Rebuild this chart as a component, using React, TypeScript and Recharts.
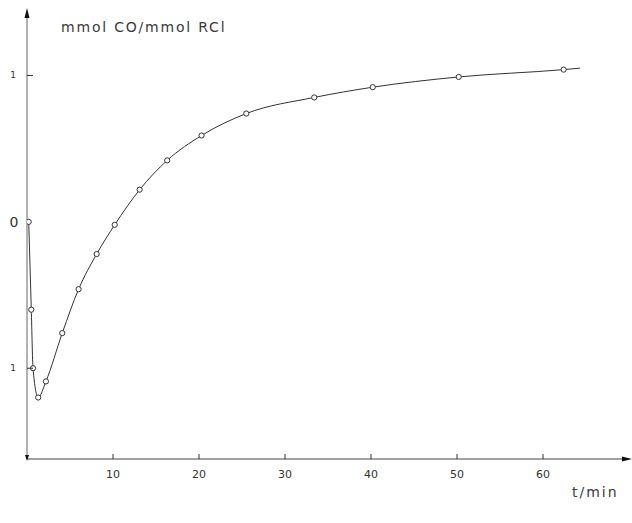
import React from "react";
import { ComposedChart, Line, XAxis, YAxis, ReferenceDot } from "recharts";

// readings: time in minutes, CO yield in mmol CO / mmol RCl
const times = [0.2, 0.5, 0.7, 1.3, 2.2, 4.1, 6.0, 8.1, 10.2, 13.1, 16.3, 20.3, 25.5, 33.4, 40.2, 50.2, 62.4];
const coYield = [0, -0.6, -1.0, -1.2, -1.09, -0.76, -0.46, -0.22, -0.02, 0.22, 0.42, 0.59, 0.74, 0.85, 0.92, 0.99, 1.04];
// where the drawn curve stops, past the last reading
const curveEndT = 64.3;
const curveEndY = 1.05;

const xTicks = [10, 20, 30, 40, 50, 60];
const yTicks = [-1, 0, 1];
const yTickLabels = ["1", "0", "1"];

const xDomain: [number, number] = [0, 70];
const yDomain: [number, number] = [-1.62, 1.42];

const ink = "#333";
const font = "DejaVu Sans, sans-serif";

const data = [
  ...times.map((t, i) => ({ t, y: coYield[i], measured: true })),
  { t: curveEndT, y: curveEndY, measured: false },
];

const XTick = (props: any) => {
  const { x, y, payload } = props;
  return (
    <g>
      <line x1={x} x2={x} y1={y} y2={y - 5} stroke={ink} strokeWidth={1} />
      <text x={x} y={y + 19} textAnchor="middle" fontSize={11} fill={ink} fontFamily={font}>
        {payload.value}
      </text>
    </g>
  );
};

const YTick = (props: any) => {
  const { x, y, payload } = props;
  const idx = yTicks.indexOf(payload.value);
  const isZero = payload.value === 0;
  return (
    <g>
      {!isZero && <line x1={x} x2={x + 6} y1={y} y2={y} stroke={ink} strokeWidth={1} />}
      <text
        x={isZero ? 14 : 13}
        y={y + (isZero ? 5 : 3)}
        textAnchor="middle"
        fontSize={isZero ? 14 : 9}
        fill={ink}
        fontFamily={font}
      >
        {yTickLabels[idx]}
      </text>
    </g>
  );
};

const OpenDot = (props: any) => {
  const { cx, cy, payload, index } = props;
  if (!payload || !payload.measured) return <g key={`d${index}`} />;
  return <circle key={`d${index}`} cx={cx} cy={cy} r={2.6} fill="#fff" stroke={ink} strokeWidth={1} />;
};

const arrowUp = ({ cx, cy }: any) => (
  <path d={`M${cx},${cy - 6} L${cx - 2.5},${cy + 4} L${cx + 2.5},${cy + 4} Z`} fill="#111" />
);
const arrowRight = ({ cx, cy }: any) => (
  <path d={`M${cx + 3},${cy} L${cx - 7},${cy - 2.5} L${cx - 7},${cy + 2.5} Z`} fill="#111" />
);
const arrowDown = ({ cx, cy }: any) => (
  <path d={`M${cx},${cy + 2} L${cx - 2},${cy - 4} L${cx + 2},${cy - 4} Z`} fill="#111" />
);

export default function App() {
  return (
    <div style={{ position: "absolute", left: 0, top: 0, width: 632, height: 523, background: "#fff" }}>
      <ComposedChart
        width={632}
        height={523}
        data={data}
        margin={{ top: 14, right: 3, left: 0, bottom: 34 }}
      >
        <XAxis
          type="number"
          dataKey="t"
          domain={xDomain}
          ticks={xTicks}
          height={30}
          tickSize={0}
          tickMargin={0}
          tickLine={false}
          tick={<XTick />}
          axisLine={{ stroke: "#444", strokeWidth: 1.2 }}
          allowDataOverflow
        />
        <YAxis
          type="number"
          domain={yDomain}
          ticks={yTicks}
          width={27}
          tickSize={0}
          tickMargin={0}
          tickLine={false}
          tick={<YTick />}
          axisLine={{ stroke: "#666", strokeWidth: 1 }}
          allowDataOverflow
        />
        <Line
          type="monotone"
          dataKey="y"
          stroke={ink}
          strokeWidth={1}
          dot={<OpenDot />}
          activeDot={false}
          isAnimationActive={false}
        />
        <ReferenceDot x={xDomain[0]} y={yDomain[1]} ifOverflow="visible" shape={arrowUp} />
        <ReferenceDot x={xDomain[1]} y={yDomain[0]} ifOverflow="visible" shape={arrowRight} />
        <ReferenceDot x={xDomain[0]} y={yDomain[0]} ifOverflow="visible" shape={arrowDown} />
      </ComposedChart>
      <div
        style={{
          position: "absolute",
          left: 61,
          top: 19,
          fontFamily: font,
          fontSize: 14,
          letterSpacing: 1.8,
          color: "#3a3a3a",
          whiteSpace: "nowrap",
        }}
      >
        mmol CO/mmol RCl
      </div>
      <div
        style={{
          position: "absolute",
          left: 572,
          top: 484,
          fontFamily: font,
          fontSize: 14,
          letterSpacing: 2,
          color: "#3a3a3a",
          whiteSpace: "nowrap",
        }}
      >
        t/min
      </div>
    </div>
  );
}
